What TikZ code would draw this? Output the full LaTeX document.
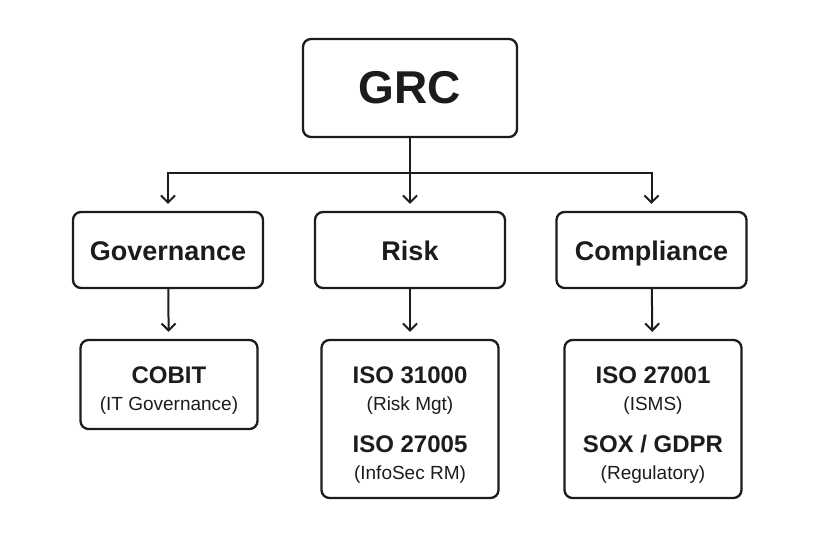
\documentclass[tikz,border=0pt]{standalone}
\usepackage{fontspec}
\setmainfont{Liberation Sans}
\usepackage{tikz}
\usetikzlibrary{arrows.meta,positioning}

\definecolor{ink}{HTML}{1C1C1C}

\newcommand\stdname[1]{{\bfseries\fontsize{24}{27}\selectfont #1}}
\newcommand\toprule{\rule{0pt}{28pt}}

\begin{document}
\begin{tikzpicture}[
                x=1pt,y=-1pt,
                box/.style={draw=ink,line width=2.3pt,rounded corners=8pt,fill=white,text=ink,inner sep=0pt},
                top/.style={box,minimum width=214pt,minimum height=98pt,font=\bfseries\fontsize{46}{54}\selectfont},
                area/.style={box,minimum width=190pt,minimum height=76pt,text height=20pt,text depth=0pt,
                    font=\bfseries\fontsize{27}{32}\selectfont},
                leaf/.style={box,minimum width=177pt,align=center,font=\fontsize{19}{27}\selectfont},
                flow/.style={draw=ink,line width=2pt,-{Straight Barb[length=7pt,width=14pt]},shorten >=7pt}
            ]
                \useasboundingbox (0,0) rectangle (822,548);
                \node (grc)  [top]  at (410,88)    {GRC};
                \node (gov)  [area] at (168,250)   {Governance};
                \node (risk) [area] at (410,250)   {Risk};
                \node (comp) [area] at (651.5,250) {Compliance};
                \node (cobit) [leaf,minimum height=89pt]  at (169,384.5)
                    {\toprule\stdname{COBIT}\\(IT Governance)};
                \node (isor)  [leaf,minimum height=158pt] at (410,419)
                    {\toprule\stdname{ISO 31000}\\(Risk Mgt)\\[15pt]\stdname{ISO 27005}\\(InfoSec RM)};
                \node (isoc)  [leaf,minimum height=158pt] at (653,419)
                    {\toprule\stdname{ISO 27001}\\(ISMS)\\[15pt]\stdname{SOX / GDPR}\\(Regulatory)};
                \coordinate (split) at (410,173);
                \draw[flow] (grc.south) -- (split) -| (gov.north);
                \draw[flow] (grc.south) -- (risk.north);
                \draw[flow] (grc.south) -- (split) -| (comp.north);
                \draw[flow] (gov) -- (cobit);
                \draw[flow] (risk) -- (isor);
                \draw[flow] (comp) -- (isoc);
            \end{tikzpicture}
\end{document}
